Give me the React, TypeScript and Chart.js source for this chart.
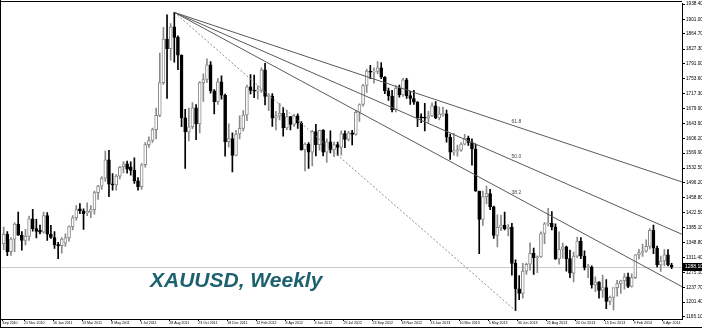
import React, { useEffect, useRef } from 'react';
import { Chart, registerables } from 'chart.js';

Chart.register(...registerables);

// Weekly XAUUSD candles, first bar = week of 10 Oct 2010, last = week of 20 Apr 2014
const opens = [
  1346, 1369, 1326, 1357, 1394, 1367, 1354, 1364, 1407, 1383, 1379, 1374,
  1415, 1369, 1361, 1343, 1341, 1347, 1360, 1388, 1410, 1432, 1427, 1422, 1424, 1430, 1472, 1488, 1508, 1553,
  1494, 1491, 1513, 1536, 1543, 1536, 1527, 1501, 1487, 1541, 1591, 1601, 1628, 1663, 1744, 1852, 1828, 1882,
  1856, 1812, 1657, 1622, 1635, 1682, 1642, 1744, 1752, 1788, 1724, 1697, 1746, 1713, 1598, 1606,
  1564, 1617, 1631, 1664, 1734, 1725, 1723, 1725, 1776, 1710, 1711, 1656, 1662, 1668, 1632, 1660, 1641, 1662,
  1644, 1578, 1592, 1572, 1623, 1591, 1626, 1572, 1598, 1578, 1591, 1584, 1618, 1604, 1620, 1616, 1671, 1690,
  1737, 1773, 1770, 1772, 1781, 1758, 1724, 1711, 1677, 1731, 1714, 1751, 1712, 1705, 1696, 1659, 1657,
  1656, 1662, 1687, 1657, 1665, 1667, 1609, 1572, 1576, 1577, 1592, 1607, 1596, 1580, 1476, 1406, 1462, 1470,
  1437, 1366, 1386, 1392, 1383, 1387, 1297, 1234, 1223, 1278, 1295, 1322, 1311, 1313, 1371, 1395, 1396, 1387,
  1308, 1332, 1338, 1309, 1273, 1315, 1352, 1315, 1287, 1288, 1244, 1251, 1230, 1237, 1203, 1213,
  1237, 1247, 1254, 1264, 1240, 1262, 1318, 1324, 1327, 1339, 1379, 1335, 1293, 1303, 1318, 1293,
];
const highs = [
  1387, 1376, 1361, 1398, 1424, 1376, 1381, 1414, 1431, 1406, 1392, 1424,
  1423, 1391, 1376, 1349, 1361, 1370, 1390, 1415, 1440, 1445, 1432, 1447, 1440, 1476, 1490, 1512, 1575, 1577,
  1519, 1517, 1537, 1549, 1550, 1548, 1558, 1509, 1544, 1596, 1610, 1632, 1681, 1817, 1881, 1912, 1890, 1918,
  1860, 1813, 1678, 1681, 1695, 1690, 1747, 1766, 1803, 1796, 1727, 1754, 1761, 1716, 1642, 1620,
  1626, 1662, 1675, 1738, 1764, 1763, 1736, 1781, 1792, 1717, 1717, 1673, 1693, 1683, 1676, 1661, 1666, 1667,
  1648, 1595, 1596, 1626, 1641, 1627, 1628, 1605, 1625, 1597, 1597, 1625, 1625, 1624, 1626, 1675, 1692, 1740,
  1778, 1787, 1781, 1796, 1794, 1759, 1731, 1725, 1737, 1738, 1755, 1755, 1723, 1725, 1697, 1667, 1693,
  1673, 1694, 1697, 1684, 1684, 1676, 1617, 1619, 1590, 1596, 1616, 1612, 1605, 1592, 1476, 1476, 1488, 1480,
  1439, 1417, 1416, 1424, 1393, 1396, 1306, 1267, 1297, 1298, 1348, 1335, 1316, 1375, 1398, 1433, 1425, 1395,
  1375, 1347, 1340, 1330, 1325, 1362, 1361, 1328, 1295, 1291, 1264, 1252, 1268, 1257, 1216, 1225,
  1255, 1256, 1272, 1273, 1271, 1319, 1332, 1345, 1355, 1383, 1392, 1340, 1315, 1331, 1331, 1297,
];
const lows = [
  1331, 1316, 1317, 1326, 1366, 1330, 1343, 1354, 1377, 1360, 1370, 1372,
  1354, 1359, 1334, 1309, 1322, 1339, 1352, 1380, 1404, 1420, 1381, 1415, 1410, 1419, 1455, 1480, 1500, 1462,
  1478, 1478, 1506, 1521, 1520, 1515, 1495, 1478, 1480, 1535, 1584, 1596, 1605, 1660, 1740, 1705, 1800, 1795,
  1776, 1635, 1532, 1600, 1630, 1603, 1620, 1698, 1745, 1718, 1667, 1690, 1703, 1562, 1585, 1523,
  1563, 1605, 1625, 1650, 1716, 1707, 1703, 1720, 1689, 1675, 1636, 1627, 1652, 1612, 1628, 1627, 1636, 1631,
  1577, 1526, 1532, 1538, 1563, 1577, 1563, 1547, 1570, 1561, 1564, 1565, 1583, 1600, 1590, 1614, 1648, 1686,
  1720, 1754, 1743, 1766, 1754, 1717, 1700, 1672, 1672, 1708, 1710, 1705, 1690, 1690, 1635, 1645, 1625,
  1646, 1660, 1655, 1652, 1661, 1597, 1554, 1565, 1562, 1574, 1590, 1589, 1540, 1475, 1321, 1391, 1444, 1430,
  1359, 1338, 1378, 1380, 1365, 1268, 1180, 1207, 1211, 1270, 1280, 1270, 1274, 1312, 1346, 1390, 1380, 1307,
  1295, 1310, 1278, 1262, 1251, 1311, 1309, 1281, 1262, 1236, 1227, 1211, 1213, 1185, 1195, 1182,
  1216, 1223, 1233, 1237, 1238, 1259, 1308, 1314, 1325, 1333, 1321, 1288, 1277, 1291, 1291, 1284,
];
const closes = [
  1369, 1326, 1357, 1394, 1367, 1354, 1364, 1407, 1383, 1376, 1374, 1415,
  1369, 1361, 1343, 1341, 1357, 1360, 1388, 1410, 1430, 1427, 1420, 1426, 1430, 1472, 1488, 1508, 1553, 1493,
  1491, 1513, 1535, 1543, 1530, 1527, 1501, 1487, 1541, 1591, 1601, 1628, 1663, 1744, 1852, 1828, 1882, 1856,
  1812, 1657, 1622, 1635, 1682, 1642, 1744, 1752, 1788, 1724, 1697, 1746, 1713, 1598, 1606, 1564,
  1617, 1631, 1664, 1734, 1725, 1723, 1725, 1776, 1710, 1711, 1656, 1662, 1668, 1632, 1660, 1641, 1662, 1644,
  1578, 1592, 1572, 1623, 1591, 1626, 1572, 1598, 1578, 1591, 1584, 1618, 1604, 1620, 1616, 1671, 1690, 1737,
  1773, 1770, 1772, 1781, 1758, 1724, 1711, 1677, 1731, 1714, 1751, 1712, 1705, 1696, 1657, 1657, 1656,
  1662, 1687, 1657, 1667, 1667, 1609, 1572, 1576, 1577, 1592, 1607, 1596, 1580, 1476, 1406, 1462, 1470, 1437,
  1366, 1386, 1392, 1383, 1387, 1297, 1234, 1223, 1278, 1295, 1322, 1311, 1313, 1371, 1395, 1396, 1387, 1308,
  1332, 1338, 1309, 1273, 1315, 1352, 1315, 1287, 1288, 1244, 1251, 1230, 1237, 1203, 1213, 1237,
  1247, 1254, 1264, 1240, 1262, 1318, 1324, 1327, 1339, 1379, 1335, 1293, 1303, 1318, 1293, 1288,
];

const tickIndex = [0, 6, 14, 22, 30, 38, 46, 54, 62, 70, 78, 86, 94, 102, 110, 118, 126, 134, 142, 150, 158, 166, 174, 182];
const tickLabels = [
  'Sep 2010', '21 Nov 2010', '16 Jan 2011', '13 Mar 2011', '8 May 2011', '3 Jul 2011', '28 Aug 2011',
  '23 Oct 2011', '18 Dec 2011', '12 Feb 2012', '8 Apr 2012', '3 Jun 2012', '29 Jul 2012', '23 Sep 2012',
  '18 Nov 2012', '13 Jan 2013', '10 Mar 2013', '5 May 2013', '30 Jun 2013', '25 Aug 2013', '20 Oct 2013',
  '15 Dec 2013', '9 Feb 2014', '6 Apr 2014',
];
const priceTicks = [
  1938.4, 1901.0, 1864.7, 1827.3, 1791.0, 1753.6, 1717.3, 1679.9, 1643.6, 1606.2, 1569.9,
  1532.5, 1496.2, 1458.8, 1422.5, 1385.1, 1348.8, 1311.4, 1275.1, 1237.7, 1201.4, 1165.1,
];
const fanLevels = [38.2, 50.0, 61.8];
const fanFromIndex = 47; // swing high bar
const fanToIndex = 141; // swing low bar
const currentPrice = 1288.1;

const BULL = '#8a8a8a';
const BEAR = '#000000';
const FONT = '"Liberation Sans", Arial, sans-serif';

export default function App() {
  const ref = useRef<HTMLCanvasElement>(null);

  useEffect(() => {
    document.body.style.margin = '0';
    const up = closes.map((c, i) => c >= opens[i]);
    const bodyData = closes.map((c, i) => ({ x: i, y: [opens[i], c] }));
    const wickData = closes.map((_, i) => ({ x: i, y: [lows[i], highs[i]] }));

    const overlay = {
      id: 'overlay',
      beforeDatasetsDraw(chart: any) {
        const { ctx, chartArea: a, scales } = chart;
        const y = Math.round(scales.y.getPixelForValue(currentPrice)) + 0.5;
        ctx.save();
        ctx.strokeStyle = '#c8c8c8';
        ctx.lineWidth = 1;
        ctx.beginPath();
        ctx.moveTo(a.left, y);
        ctx.lineTo(a.right, y);
        ctx.stroke();
        ctx.restore();
      },
      afterDatasetsDraw(chart: any) {
        const { ctx, chartArea: a, scales } = chart;
        const xs = scales.x;
        const ys = scales.y;
        const hi = highs[fanFromIndex];
        const lo = lows[fanToIndex];
        const x1 = xs.getPixelForValue(fanFromIndex);
        const y1 = ys.getPixelForValue(hi);
        const x2 = xs.getPixelForValue(fanToIndex);
        ctx.save();
        ctx.beginPath();
        ctx.rect(a.left, a.top, a.right - a.left, a.bottom - a.top);
        ctx.clip();
        ctx.strokeStyle = '#8c8c8c';
        ctx.lineWidth = 1;
        ctx.setLineDash([2, 2]);
        ctx.beginPath();
        ctx.moveTo(x1, y1);
        ctx.lineTo(x2, ys.getPixelForValue(lo));
        ctx.stroke();
        ctx.setLineDash([]);
        ctx.strokeStyle = '#5a5a5a';
        ctx.fillStyle = '#444';
        ctx.font = `5px ${FONT}`;
        ctx.textAlign = 'left';
        ctx.textBaseline = 'bottom';
        fanLevels.forEach((lv) => {
          const p2 = lo + (lv / 100) * (hi - lo);
          const y2 = ys.getPixelForValue(p2);
          const t = (a.right - x1) / (x2 - x1);
          ctx.beginPath();
          ctx.moveTo(x1, y1);
          ctx.lineTo(a.right, y1 + t * (y2 - y1));
          ctx.stroke();
          ctx.fillText(lv.toFixed(1), x2 - 4, y2 - 2);
        });
        ctx.restore();
      },
      afterDraw(chart: any) {
        const { ctx, chartArea: a, scales, width, height } = chart;
        const y = scales.y.getPixelForValue(currentPrice);
        ctx.save();
        ctx.fillStyle = '#000';
        ctx.fillRect(a.right + 1, Math.round(y) - 4, width - a.right - 1, 8);
        ctx.fillStyle = '#fff';
        ctx.font = `5px ${FONT}`;
        ctx.textAlign = 'left';
        ctx.textBaseline = 'middle';
        ctx.fillText(currentPrice.toFixed(2), a.right + 3, Math.round(y));
        ctx.strokeStyle = '#000';
        ctx.lineWidth = 1;
        ctx.beginPath();
        ctx.moveTo(0.5, 0);
        ctx.lineTo(0.5, height);
        ctx.moveTo(0, 1.5);
        ctx.lineTo(a.right, 1.5);
        ctx.moveTo(0, height - 0.5);
        ctx.lineTo(width, height - 0.5);
        ctx.stroke();
        ctx.restore();
      },
    };

    const chart = new Chart(ref.current as HTMLCanvasElement, {
      type: 'bar',
      data: {
        datasets: [
          {
            label: 'wick',
            data: wickData as any,
            order: 2,
            grouped: false,
            barThickness: 1,
            backgroundColor: up.map((u) => (u ? BULL : BEAR)),
            borderWidth: 0,
          },
          {
            label: 'body',
            data: bodyData as any,
            order: 1,
            grouped: false,
            barThickness: 3,
            minBarLength: 1,
            backgroundColor: up.map((u) => (u ? '#ffffff' : BEAR)),
            borderColor: up.map((u) => (u ? BULL : BEAR)),
            borderWidth: 1,
            borderSkipped: false,
          },
        ],
      },
      options: {
        responsive: false,
        animation: false,
        devicePixelRatio: 1,
        layout: { padding: { left: 1, top: 2, right: 0, bottom: 0 } },
        plugins: { legend: { display: false }, tooltip: { enabled: false }, title: { display: false } },
        scales: {
          x: {
            type: 'linear',
            min: -0.74,
            max: 186.86,
            offset: false,
            grid: { display: true, drawOnChartArea: false, drawTicks: true, tickLength: 2, color: '#000', offset: false },
            border: { display: true, color: '#000', width: 1 },
            afterBuildTicks: (s: any) => {
              s.ticks = tickIndex.map((v) => ({ value: v - 0.4 }));
            },
            afterFit: (s: any) => {
              s.height = 9;
            },
            ticks: {
              autoSkip: false,
              maxRotation: 0,
              minRotation: 0,
              align: 'start',
              padding: 0,
              color: '#000',
              font: { size: 3.6, family: FONT },
              callback: (_v: any, i: number) => tickLabels[i],
            },
          },
          y: {
            type: 'linear',
            position: 'right',
            min: 1159.45,
            max: 1939.14,
            grid: { display: true, drawOnChartArea: false, drawTicks: true, tickLength: 3, color: '#000' },
            border: { display: true, color: '#000', width: 1 },
            afterBuildTicks: (s: any) => {
              s.ticks = priceTicks.map((v) => ({ value: v }));
            },
            afterFit: (s: any) => {
              s.width = 20;
            },
            ticks: {
              autoSkip: false,
              padding: 1,
              color: '#000',
              font: { size: 4.7, family: FONT },
              callback: (v: any) => Number(v).toFixed(2),
            },
          },
        },
      },
      plugins: [overlay],
    } as any);
    return () => chart.destroy();
  }, []);

  return (
    <div style={{ position: 'relative', width: 702, height: 328, background: '#fff', overflow: 'hidden' }}>
      <canvas ref={ref} width={702} height={328} style={{ display: 'block' }} />
      <div
        style={{
          position: 'absolute',
          left: 150,
          top: 269,
          fontFamily: FONT,
          fontWeight: 'bold',
          fontStyle: 'italic',
          fontSize: 21,
          lineHeight: '21px',
          color: '#1c6170',
          whiteSpace: 'nowrap',
        }}
      >
        XAUUSD, Weekly
      </div>
    </div>
  );
}
